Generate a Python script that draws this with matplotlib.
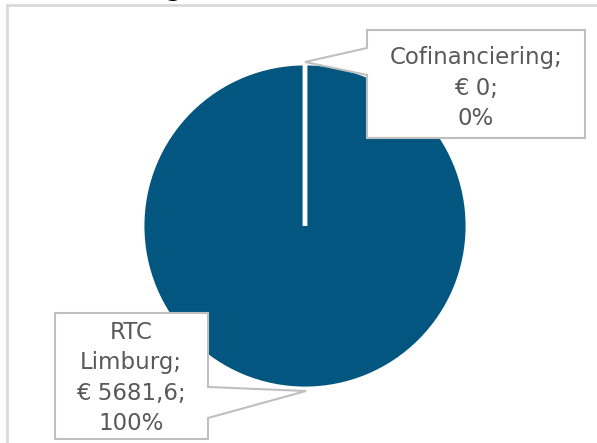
import matplotlib.pyplot as plt
from matplotlib.patches import Polygon

# data
categories = ["RTC Limburg", "Cofinanciering"]
values = [5681.6, 0.0]
colors = ["#02567F", "#4F81BD"]

W, H = 597, 443
fig = plt.figure(figsize=(W / 100, H / 100), dpi=100)
ax = fig.add_axes([0, 0, 1, 1])

# pie (pixel coords, y flipped)
cx, cy, r = 305, H - 226, 163
ax.pie(values, colors=colors, startangle=90, counterclock=False,
       center=(cx, cy), radius=r,
       wedgeprops=dict(edgecolor="white", linewidth=3.5))
ax.set_xlim(0, W)
ax.set_ylim(0, H)
ax.set_aspect("equal")
ax.axis("off")

# chart frame
ax.plot([7, W], [H - 5, H - 5], color="#D9D9D9", lw=2, clip_on=False)
ax.plot([7, 7], [H - 5, 0], color="#D9D9D9", lw=2, clip_on=False)

# cut off title (only descender visible)
ax.text(182, H + 3, "Financiering", ha="right", va="baseline",
        fontsize=16, fontweight="bold", color="black", clip_on=False)

total = sum(values)


def fmt(v):
    s = ("%.1f" % v).replace(".", ",")
    if s.endswith(",0"):
        s = s[:-2]
    return s


def callout(pts, text, tx, ty):
    poly = Polygon([(x, H - y) for x, y in pts], closed=True,
                   facecolor="white", edgecolor="#BFBFBF", lw=1.5, zorder=3)
    ax.add_patch(poly)
    ax.text(tx, H - ty, text, ha="center", va="center", fontsize=16.5,
            color="#595959", linespacing=1.4, zorder=4)


lbl0 = "RTC\nLimburg;\n€ %s;\n%d%%" % (fmt(values[0]), round(values[0] / total * 100))
lbl1 = "%s;\n€ %s;\n%d%%" % (categories[1], fmt(values[1]), round(values[1] / total * 100))

callout([(367, 30), (585, 30), (585, 138), (367, 138), (367, 75),
         (305, 62), (367, 48)], lbl1, 476, 88)
callout([(55, 313), (208, 313), (208, 387), (306, 391), (208, 418),
         (208, 439), (55, 439)], lbl0, 131, 378)

fig.savefig("out.png", dpi=100)
